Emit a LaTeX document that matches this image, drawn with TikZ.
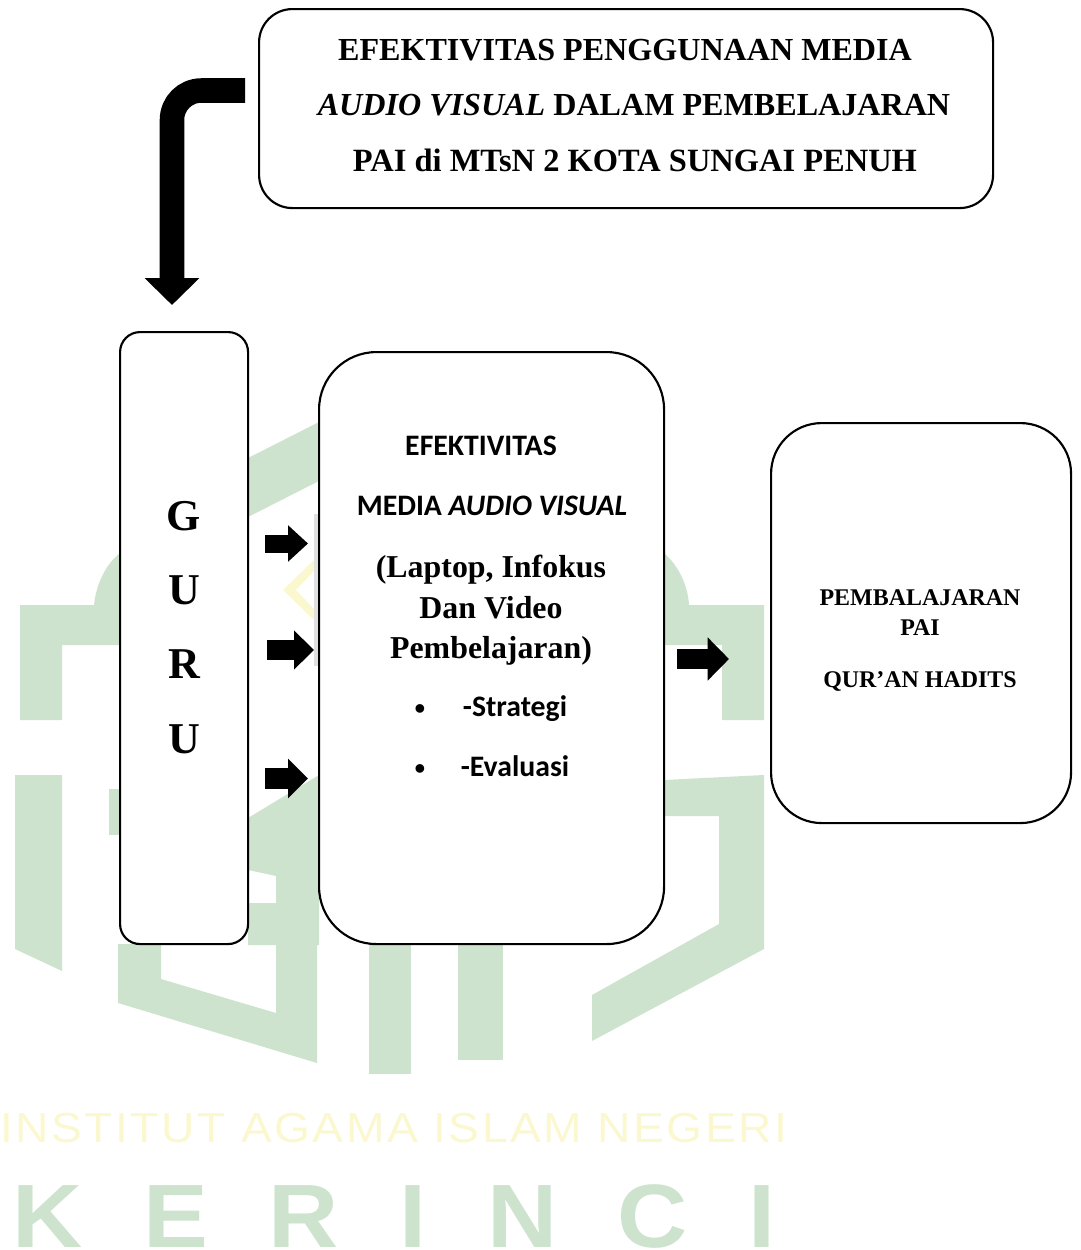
\documentclass[tikz,border=0pt]{standalone}
\usepackage{fontspec}
\setmainfont{Liberation Serif}
\newfontfamily\carlitofont{Carlito}
\newfontfamily\wmfont{Liberation Sans}
\usetikzlibrary{arrows.meta}
\definecolor{wmgreen}{HTML}{CDE3CE}
\definecolor{wmyellow}{HTML}{FBF8D0}
\tikzset{
  panel/.style={draw=black,fill=white,line width=1.6pt,rectangle,inner sep=0pt,anchor=north west},
  lbl/.style={inner sep=0pt,anchor=base,text=black},
  toptext/.style={lbl,font=\fontsize{24.08}{24}\selectfont\bfseries},
  medserif/.style={lbl,font=\fontsize{23.9}{24}\selectfont\bfseries},
  medsans/.style={lbl,font=\carlitofont\fontsize{22.3}{23}\selectfont\bfseries},
  bulletmark/.style={lbl,font=\fontsize{24}{24}\selectfont\bfseries},
  guruletter/.style={lbl,font=\fontsize{33}{33}\selectfont\bfseries},
  pailabel/.style={lbl,font=\fontsize{17.95}{18}\selectfont\bfseries},
}
\begin{document}
\begin{tikzpicture}[x=0.75pt,y=-0.75pt]
\useasboundingbox (0,0) rectangle (1081,1250);
\clip (0,0) rectangle (1081,1250);
% watermark
\fill[wmgreen] (20,605) -- (94,605) .. controls (96,585) and (105,565) .. (120,553) -- (120,645) -- (62,645) -- (62,720) -- (20,720) -- cycle;
\fill[wmgreen] (664,553) .. controls (678,565) and (688,585) .. (689,605) -- (764,605) -- (764,720) -- (722,720) -- (722,645) -- (664,645) -- cycle;
\fill[wmgreen] (248,458) -- (319,422) -- (319,481) -- (248,517) -- cycle;
\fill[wmgreen] (15,775) -- (62,775) -- (62,971) -- (15,949) -- cycle;
\fill[wmgreen] (109,789) -- (120,789) -- (120,835) -- (109,835) -- cycle;
\fill[wmgreen] (248,818) -- (319,775) -- (319,945) -- (248,945) -- (248,903) -- (276,903) -- (276,876) -- (248,870) -- cycle;
\fill[wmgreen] (118,944) -- (161,944) -- (161,979) -- (276,1013) -- (276,944) -- (317,944) -- (317,1063) -- (118,1003) -- cycle;
\fill[wmgreen] (369,944) -- (411,944) -- (411,1074) -- (369,1074) -- cycle;
\fill[wmgreen] (458,944) -- (503,944) -- (503,1060) -- (458,1060) -- cycle;
\fill[wmgreen] (664,780) -- (764,775) -- (764,949) -- (592,1041) -- (592,995) -- (719,924) -- (719,816) -- (664,816) -- cycle;
\fill[wmyellow] (283,590) -- (317,557) -- (317,568) -- (296,590) -- (317,612) -- (317,623) -- cycle;
\fill[black!12] (314,514) rectangle (319,666);
\node[inner sep=0pt,anchor=base west,text=wmyellow,font=\wmfont\fontsize{31.5}{32}\selectfont] (wmone) at (0,1142) {\addfontfeature{FakeStretch=1.1,LetterSpace=6}INSTITUT AGAMA ISLAM NEGERI};
\node[inner sep=0pt,anchor=base west,text=wmgreen,font=\wmfont\fontsize{67.5}{68}\selectfont\bfseries] (wmtwo) at (12,1247.5) {\addfontfeature{FakeStretch=1.08}\spaceskip=45.5pt K E R I N C I};
% panels
\node[panel,minimum width=550.5pt,minimum height=149.25pt,rounded corners=25pt] (topbox) at (258,8) {};
\node[panel,minimum width=96pt,minimum height=459pt,rounded corners=15pt] (guru) at (119,331) {};
\node[panel,minimum width=258.75pt,minimum height=444pt,rounded corners=43pt] (media) at (318,351) {};
\node[panel,minimum width=225pt,minimum height=300pt,rounded corners=38pt] (hasil) at (770,422) {};
% top text
\node[toptext] (tl1) at (625,60) {EFEKTIVITAS PENGGUNAAN MEDIA};
\node[toptext] (tl2) at (634,115) {\textit{AUDIO VISUAL} DALAM PEMBELAJARAN};
\node[toptext,font=\fontsize{24.35}{24}\selectfont\bfseries] (tl3) at (635,171) {PAI di MTsN 2 KOTA SUNGAI PENUH};
% guru
\node[guruletter] (g1) at (184,530) {G};
\node[guruletter] (g2) at (184,604) {U};
\node[guruletter] (g3) at (184,678) {R};
\node[guruletter] (g4) at (184,753) {U};
% media
\node[medsans] (m1) at (481,455) {EFEKTIVITAS};
\node[medsans] (m2) at (492,515) {MEDIA \textit{AUDIO VISUAL}};
\node[medserif] (m3) at (491,577) {(Laptop, Infokus};
\node[medserif] (m4) at (491,618) {Dan Video};
\node[medserif] (m5) at (491,658) {Pembelajaran)};
\node[bulletmark] (b1) at (420,719) {•};
\node[medsans] (m6) at (515,716) {-Strategi};
\node[bulletmark] (b2) at (420,779) {•};
\node[medsans] (m7) at (515,776) {-Evaluasi};
% right
\node[pailabel] (p1) at (920,605) {PEMBALAJARAN};
\node[pailabel] (p2) at (920,635) {PAI};
\node[pailabel] (p3) at (920,687) {QUR’AN HADITS};
% connectors
\coordinate (bendstart) at (245,90.5);
\coordinate (bendend) at (172,332);
\draw[line width=18.4pt,rounded corners=22pt,shorten >=20.25pt,-{Triangle[width=40pt,length=20.25pt]}] (bendstart) -| (bendend);
\coordinate (a1) at (248,543.5);
\coordinate (a2) at (248,650);
\coordinate (a3) at (248,778.5);
\coordinate (a4) at (664,659);
\draw[line width=13.5pt,shorten <=12.75pt,shorten >=7.5pt,-{Triangle[width=26.5pt,length=15pt]}] (a1) -- (a1 -| media.west);
\draw[line width=15pt,shorten <=14.25pt,shorten >=3pt,-{Triangle[width=28.5pt,length=15pt]}] (a2) -- (a2 -| media.west);
\draw[line width=15.5pt,shorten <=12.75pt,shorten >=7.5pt,-{Triangle[width=29pt,length=15pt]}] (a3) -- (a3 -| media.west);
\draw[line width=15.5pt,shorten <=9.75pt,shorten >=30.75pt,-{Triangle[width=31.5pt,length=16pt]}] (a4) -- (a4 -| hasil.west);
\end{tikzpicture}
\end{document}
